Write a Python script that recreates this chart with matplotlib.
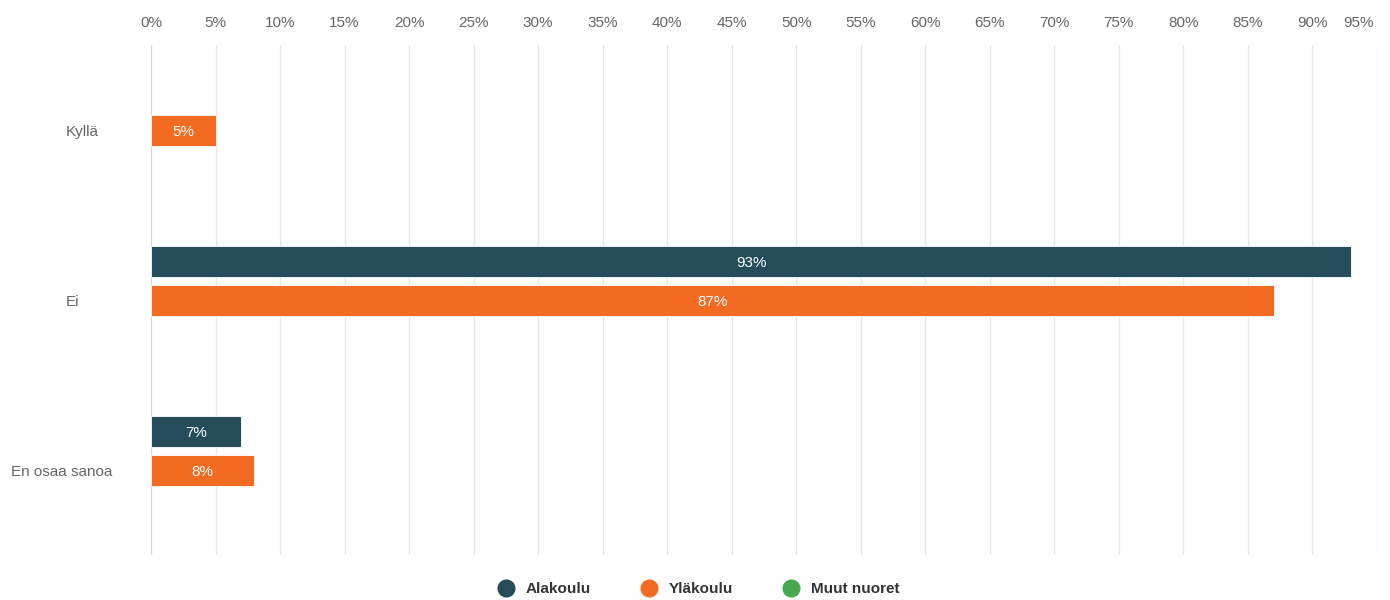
import numpy as np
import matplotlib
matplotlib.use("Agg")
import matplotlib.pyplot as plt
from matplotlib.lines import Line2D
import matplotlib.transforms as mtransforms

plt.rcParams['font.family'] = ['Liberation Sans', 'DejaVu Sans']

categories = ["Kyllä", "Ei", "En osaa sanoa"]
series_names = ["Alakoulu", "Yläkoulu", "Muut nuoret"]
alakoulu = [np.nan, 93, 7]
ylakoulu = [5, 87, 8]
muut_nuoret = [np.nan, np.nan, np.nan]
colors = ["#244c5a", "#f26b21", "#47a84f"]
xticks = list(range(0, 100, 5))

fig = plt.figure(figsize=(13.9, 6), dpi=100)
ax = fig.add_axes([151/1390, 1 - 555/600, (1377 - 151)/1390, 510/600])
ax.set_axisbelow(True)

bar_h = 31/170
offsets = [-39/170, 0, 39/170]
ypos = np.arange(len(categories))
for vals, off, col in zip([alakoulu, ylakoulu, muut_nuoret], offsets, colors):
    vals = np.array(vals, dtype=float)
    mask = ~np.isnan(vals)
    ax.barh(ypos[mask] + off, vals[mask], height=bar_h, color=col,
            edgecolor='white', linewidth=0.6, zorder=3)
    for y, v in zip(ypos[mask] + off, vals[mask]):
        ax.text(v/2, y, f"{v:.0f}%", ha='center', va='center_baseline', color='white',
                fontsize=11, zorder=4)

ax.set_xlim(0, 95)
ax.set_ylim(2.5, -0.5)
ax.set_xticks(xticks)
ax.set_xticklabels([f"{t}%" for t in xticks], fontsize=11, color='#666666')
ax.xaxis.tick_top()
ax.tick_params(axis='x', length=0, pad=11)
labs = ax.get_xticklabels()
labs[-1].set_ha('right')
labs[-1].set_transform(labs[-1].get_transform() + mtransforms.ScaledTranslation(-3/100, 0, fig.dpi_scale_trans))
ax.set_yticks([])
ax.grid(axis='x', color='#e6e6e6', linewidth=1)
ax.axvline(0, color='#ccd6eb', linewidth=1.5, zorder=2)
for s in ax.spines.values():
    s.set_visible(False)

# category labels
label_x = [66, 66, 11]
trans = mtransforms.blended_transform_factory(fig.transFigure, ax.transData)
for cat, y, lx in zip(categories, ypos, label_x):
    ax.text(lx/1390, y, cat, fontsize=11, color='#666666', ha='left',
            va='center_baseline', transform=trans)

handles = [Line2D([0], [0], marker='o', linestyle='none', markersize=12,
                  markerfacecolor=c, markeredgecolor=c) for c in colors]
leg = fig.legend(handles, series_names, loc='center', bbox_to_anchor=(0.5, 1 - 589/600),
                 ncol=3, frameon=False, handletextpad=0.3, columnspacing=2.8,
                 prop={'size': 11, 'weight': 'bold'})
for t in leg.get_texts():
    t.set_color('#333333')

fig.savefig("out.png", dpi=100)
